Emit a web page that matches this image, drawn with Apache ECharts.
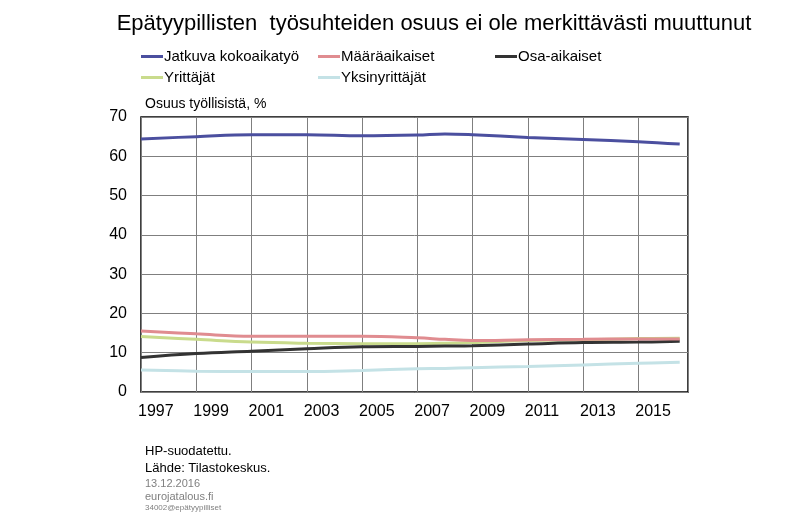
<!DOCTYPE html>
<html><head><meta charset="utf-8">
<script src="https://cdn.jsdelivr.net/npm/echarts@6/dist/echarts.min.js"></script>
<style>html,body{margin:0;padding:0;background:#fff}#c{width:800px;height:522px}</style>
</head><body><div id="c"></div>
<script>
// Aikapisteet (vuosi, desimaali; viimeinen = 2016Q3)
var periods = [1997, 1999, 2001, 2003, 2005, 2007, 2008, 2009, 2011, 2013, 2015, 2016.5];
var jatkuva = [64.4, 65.0, 65.5, 65.5, 65.2, 65.4, 65.7, 65.5, 64.8, 64.3, 63.7, 63.1];
var maaraaikaiset = [15.5, 14.8, 14.2, 14.2, 14.2, 13.8, 13.4, 13.1, 13.3, 13.4, 13.5, 13.5];
var osaaikaiset = [8.8, 9.8, 10.4, 11.0, 11.5, 11.6, 11.7, 11.8, 12.2, 12.6, 12.7, 12.9];
var yrittajat = [14.1, 13.4, 12.7, 12.4, 12.3, 12.3, 12.4, 12.6, 13.1, 13.3, 13.6, 13.7];
var yksinyrittajat = [5.6, 5.3, 5.2, 5.2, 5.5, 5.9, 6.0, 6.2, 6.5, 6.9, 7.3, 7.6];
var seriesNames = ['Jatkuva kokoaikatyö', 'Määräaikaiset', 'Osa-aikaiset', 'Yrittäjät', 'Yksinyrittäjät'];
var seriesColors = ['#4b4f9f', '#e08c90', '#333333', '#c9db8c', '#c4e2e6'];
var yTicks = {min: 0, max: 70, step: 10};
var xTicks = {min: 1997, max: 2016.8, step: 2};

var allValues = [jatkuva, maaraaikaiset, osaaikaiset, yrittajat, yksinyrittajat];
function pairs(v) { return periods.map(function (p, i) { return [p, v[i]]; }); }

var font = 'Liberation Sans, Arial, sans-serif';
var legendPos = [[141, 49], [318, 49], [495, 49], [141, 70], [318, 70]];

var chart = echarts.init(document.getElementById('c'), null, {renderer: 'canvas'});
chart.setOption({
  animation: false,
  textStyle: {fontFamily: font},
  title: {
    text: 'Epätyypillisten  työsuhteiden osuus ei ole merkittävästi muuttunut',
    left: 434, top: 8, textAlign: 'center',
    textStyle: {fontSize: 22, fontWeight: 'normal', color: '#000', fontFamily: font}
  },
  legend: seriesNames.map(function (n, i) {
    return {
      data: [n], left: legendPos[i][0], top: legendPos[i][1],
      icon: 'rect', itemWidth: 22, itemHeight: 3, itemGap: 0, padding: 0,
      textStyle: {fontSize: 15, color: '#000', fontFamily: font, padding: [0, 0, 0, -4]}
    };
  }),
  grid: {left: 141, right: 112, top: 117, bottom: 130, show: true,
         borderColor: '#000', borderWidth: 1.5, backgroundColor: 'transparent'},
  xAxis: {
    type: 'value', min: xTicks.min, max: xTicks.max, interval: xTicks.step,
    axisLine: {show: false}, axisTick: {show: false},
    splitLine: {show: true, lineStyle: {color: '#7f7f7f', width: 1}},
    axisLabel: {show: true, showMaxLabel: false, fontSize: 16, color: '#000', align: 'left',
                margin: 12, padding: [0, 0, 0, -3], formatter: function (v) { return String(v); }}
  },
  yAxis: {
    type: 'value', min: yTicks.min, max: yTicks.max, interval: yTicks.step,
    name: 'Osuus työllisistä, %', nameLocation: 'end', nameGap: 6,
    nameTextStyle: {fontSize: 14, color: '#000', align: 'left', padding: [0, 0, 0, 4]},
    axisLine: {show: false}, axisTick: {show: false},
    splitLine: {show: true, lineStyle: {color: '#7f7f7f', width: 1}},
    axisLabel: {fontSize: 16, color: '#000', margin: 14}
  },
  series: seriesNames.map(function (n, i) {
    return {
      name: n, type: 'line', data: pairs(allValues[i]), smooth: 0.4,
      showSymbol: false, symbol: 'none', z: 5 - i,
      lineStyle: {color: seriesColors[i], width: 3},
      itemStyle: {color: seriesColors[i]}
    };
  }),
  graphic: [
    {type: 'text', left: 145, top: 445, style: {text: 'HP-suodatettu.', font: '13px ' + font, fill: '#000'}},
    {type: 'text', left: 145, top: 462, style: {text: 'Lähde: Tilastokeskus.', font: '13px ' + font, fill: '#000'}},
    {type: 'text', left: 145, top: 478, style: {text: '13.12.2016', font: '11px ' + font, fill: '#808080'}},
    {type: 'text', left: 145, top: 491, style: {text: 'eurojatalous.fi', font: '11px ' + font, fill: '#808080'}},
    {type: 'text', left: 145, top: 504, style: {text: '34002@epätyypilliset', font: '8px ' + font, fill: '#808080'}}
  ]
});
// title centre nudged to match reference extent (118–750)
chart.setOption({title: {left: 429}});
</script></body></html>
